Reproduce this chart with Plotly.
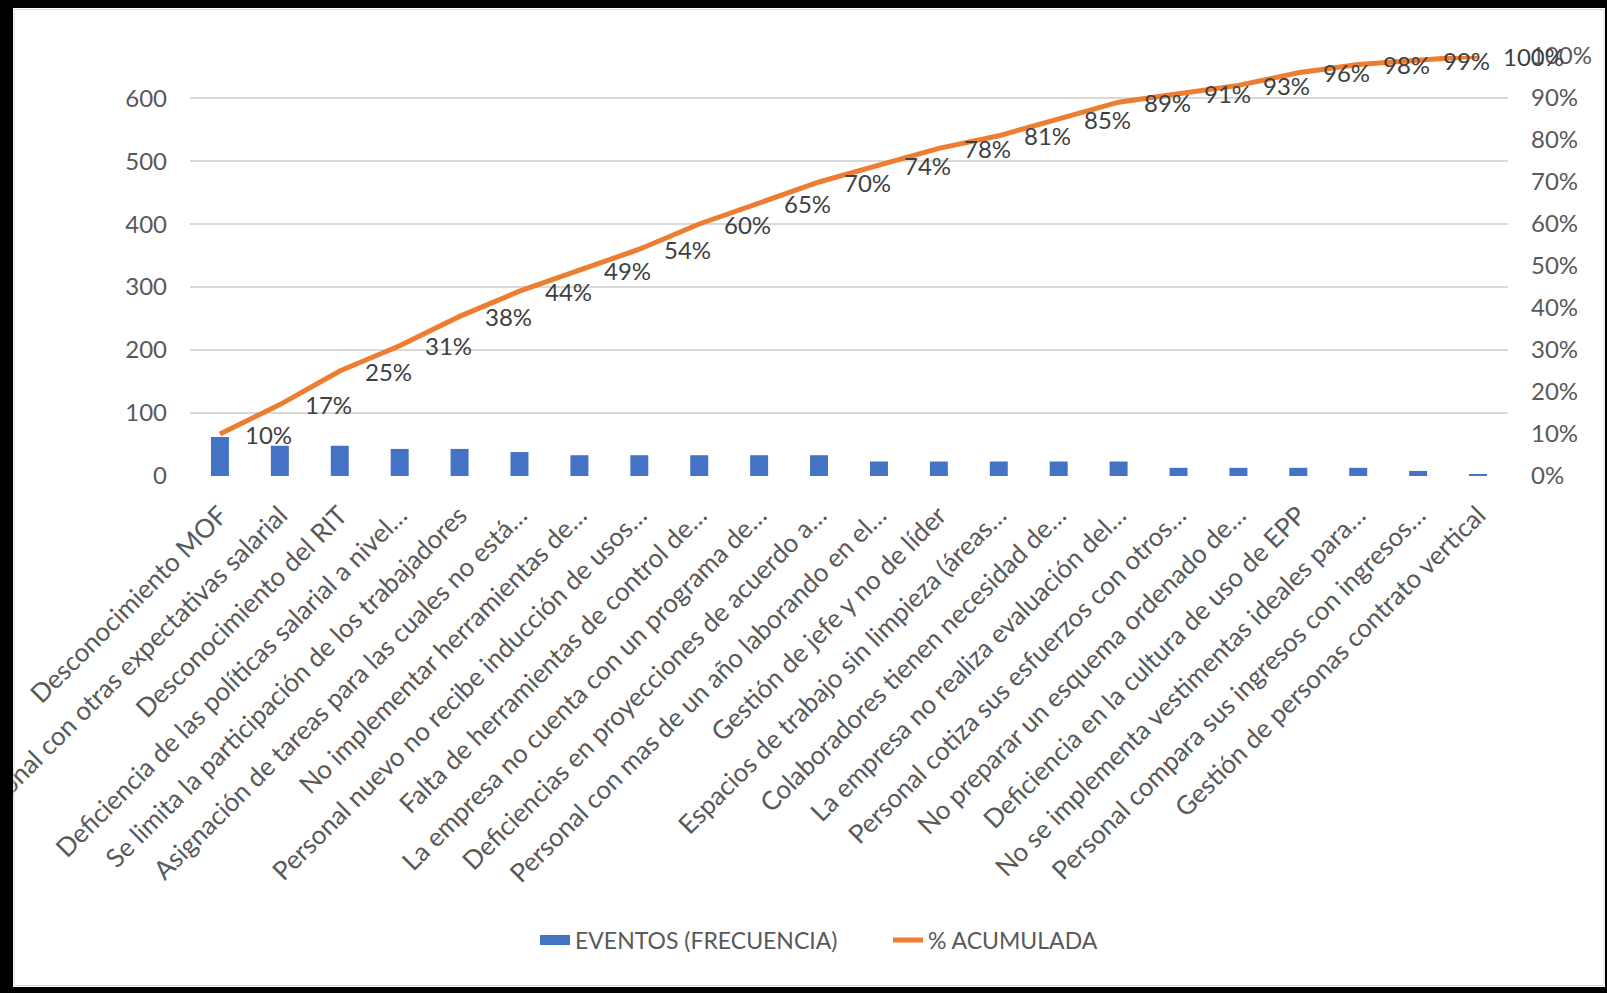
import plotly.graph_objects as go

categorias = [
    "Desconocimiento MOF",
    "Personal con otras expectativas salarial",
    "Desconocimiento del RIT",
    "Deficiencia de las políticas salarial a nivel…",
    "Se limita la participación de los trabajadores",
    "Asignación de tareas para las cuales no está…",
    "No implementar herramientas de…",
    "Personal nuevo no recibe inducción de usos…",
    "Falta de herramientas de control de…",
    "La empresa no cuenta con un programa de…",
    "Deficiencias en proyecciones de acuerdo a…",
    "Personal con mas de un año laborando en el…",
    "Gestión de jefe y no de líder",
    "Espacios de trabajo sin limpieza (áreas…",
    "Colaboradores tienen necesidad de…",
    "La empresa no realiza evaluación del…",
    "Personal cotiza sus esfuerzos con otros…",
    "No preparar un esquema ordenado de…",
    "Deficiencia en la cultura de uso de EPP",
    "No se implementa vestimentas ideales para…",
    "Personal compara sus ingresos con ingresos…",
    "Gestión de personas contrato vertical",
]

eventos = [62, 48, 48, 43, 43, 38, 33, 33, 33, 33, 33,
           23, 23, 23, 23, 23, 13, 13, 13, 13, 8, 2]

acumulada = [0.10, 0.17, 0.25, 0.31, 0.38, 0.44, 0.49, 0.54, 0.60, 0.65, 0.70,
             0.74, 0.78, 0.81, 0.85, 0.89, 0.91, 0.93, 0.96, 0.98, 0.99, 1.00]

left_ticks = [0, 100, 200, 300, 400, 500, 600]
right_ticks = [0, 0.1, 0.2, 0.3, 0.4, 0.5, 0.6, 0.7, 0.8, 0.9, 1.0]

W, H = 1607, 993
ML, MR, MT, MB = 190, 99, 56, 517
PW, PH = W - ML - MR, H - MT - MB

def px_x(p):
    return (p - ML) / PW

def px_y(p):
    return (H - MB - p) / PH

FONT = "Lato, Calibri, Carlito, sans-serif"
GRAY = "#595959"
BLUE = "#4472C4"
ORANGE = "#ED7D31"

fig = go.Figure()
fig.add_trace(go.Bar(
    x=categorias, y=eventos, name="EVENTOS (FRECUENCIA)",
    marker=dict(color=BLUE, line=dict(width=0)), yaxis="y", showlegend=False,
))
# legend entry mimicking the wide blue rectangle swatch
fig.add_trace(go.Scatter(
    x=[None], y=[None], name="EVENTOS (FRECUENCIA)", mode="lines",
    line=dict(color=BLUE, width=14), yaxis="y", showlegend=True,
))
fig.add_trace(go.Scatter(
    x=categorias, y=acumulada, name="% ACUMULADA", mode="lines",
    line=dict(color=ORANGE, width=5), yaxis="y2",
))

for c, v in zip(categorias, acumulada):
    fig.add_annotation(
        x=c, y=v, xref="x", yref="y2", text=f"{round(v*100)}%",
        showarrow=False, xanchor="left", yanchor="middle", xshift=23,
        font=dict(family=FONT, size=24, color="#404040"),
    )

shapes = []
black = dict(type="rect", xref="paper", yref="paper", fillcolor="black",
             line=dict(width=0), layer="above")
shapes.append(dict(black, x0=-0.3, x1=px_x(13), y0=-2, y1=2))
shapes.append(dict(black, x0=-0.3, x1=1.3, y0=px_y(8), y1=2))
shapes.append(dict(black, x0=-0.3, x1=1.3, y0=-2, y1=px_y(987)))
shapes.append(dict(black, x0=px_x(1605), x1=1.3, y0=-2, y1=2))
shapes.append(dict(type="rect", xref="paper", yref="paper",
                   x0=px_x(14), x1=px_x(1604), y0=px_y(985.5), y1=px_y(9.5),
                   line=dict(color="#D9D9D9", width=1), fillcolor="rgba(0,0,0,0)",
                   layer="above"))

fig.update_layout(
    width=W, height=H,
    margin=dict(l=ML, r=MR, t=MT, b=MB, autoexpand=False),
    paper_bgcolor="white", plot_bgcolor="white",
    font=dict(family=FONT, color=GRAY),
    bargap=0.70,
    showlegend=True,
    legend=dict(orientation="h", x=px_x(535), xanchor="left", y=px_y(940), yanchor="middle",
                font=dict(family=FONT, size=23, color=GRAY), entrywidth=308,
                bgcolor="rgba(0,0,0,0)", traceorder="normal"),
    xaxis=dict(
        type="category", range=[-0.5, len(categorias) - 0.5], autorange=False,
        tickangle=-45, tickfont=dict(family=FONT, size=26, color=GRAY),
        showgrid=False, showline=False, zeroline=False, ticks="", automargin=False,
        ticklabelstandoff=18,
    ),
    yaxis=dict(
        range=[0, 667], tickvals=left_ticks, showgrid=True, gridcolor="#D9D9D9", gridwidth=2,
        zeroline=False, showline=False, ticks="", automargin=False,
        tickfont=dict(family=FONT, size=24, color=GRAY), ticklabelstandoff=22,
    ),
    yaxis2=dict(
        range=[0, 1.0], overlaying="y", side="right", tickvals=right_ticks,
        tickformat=".0%", showgrid=False, zeroline=False, showline=False, ticks="",
        automargin=False, tickfont=dict(family=FONT, size=24, color=GRAY),
        ticklabelstandoff=22,
    ),
    shapes=shapes,
)

fig.write_html("out.html")
